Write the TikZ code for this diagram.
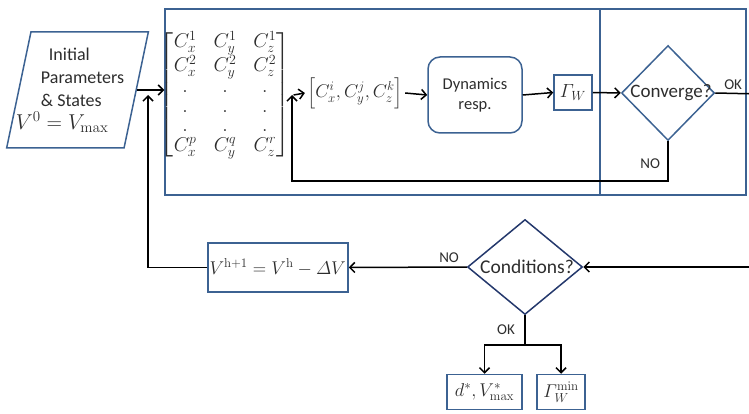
\RequirePackage{fix-cm}
\documentclass[tikz,border=0pt]{standalone}
\usepackage[no-math]{fontspec}
\setmainfont{Carlito}
\usepackage{amsmath}
\usetikzlibrary{shapes.geometric,arrows.meta}
\definecolor{boxblue}{RGB}{60,98,146}
\definecolor{navy}{RGB}{36,56,108}
\definecolor{ink}{RGB}{45,45,45}
\newcommand{\fsz}[2]{\fontsize{#1}{#2}\selectfont}
\tikzset{
    box/.style={draw=boxblue, line width=1.5pt, inner sep=0pt},
    flow/.style={line width=1.5pt, -{Straight Barb[length=5pt,width=10pt]}},
    wire/.style={line width=1.5pt},
    decide/.style={diamond, draw=boxblue, line width=1.5pt, inner sep=0pt},
    tag/.style={text=ink, font=\fsz{15}{18}},
}
\begin{document}
\begin{tikzpicture}[x=1pt, y=-1pt, text=ink]
    \useasboundingbox (0,0) rectangle (749,414);
    \clip (0,0) rectangle (749,414);
    % search loop
    \node[box, minimum width=581pt, minimum height=186pt] (loop) at (455.5,102) {};
    \draw[box] (600,9) -- (600,195);
    \node[box, trapezium, trapezium left angle=74, trapezium right angle=106,
          trapezium stretches=true, minimum width=129pt, minimum height=116pt,
          font=\fsz{18}{23}, align=left] (init) at (77.5,90)
          {\hspace*{18pt}Initial\\\hspace*{10pt}Parameters\\\hspace*{10pt}\& States\\
           \hspace*{-15pt}\fsz{21.5}{25}$V^0 = V_{\max}$};
    \begingroup
    \setlength{\arraycolsep}{8.5pt}
    \node[font=\fsz{20}{12}] (mat) at (225,95) {$\renewcommand{\arraystretch}{1.62}\begin{bmatrix}
        C_x^1 & C_y^1 & C_z^1\\
        C_x^2 & C_y^2 & C_z^2\\
        . & . & .\\
        . & . & .\\
        . & . & .\\
        C_x^p & C_y^q & C_z^r
    \end{bmatrix}$};
    \endgroup
    \node[font=\fsz{18.5}{22}, inner sep=2pt] (pick) at (355,93) {$\left[C_x^i, C_y^j, C_z^k\right]$};
    \node[box, rounded corners=12pt, minimum width=94pt, minimum height=76pt,
          font=\fsz{16.5}{20}, align=center] (dyn) at (475,95) {Dynamics\\resp.};
    \node[box, minimum width=38pt, minimum height=35pt, font=\fsz{19}{22}] (gam) at (573,92.5) {$\varGamma_W$};
    \node[decide, minimum width=93pt, minimum height=95pt, font=\fsz{19}{23}] (conv) at (668,93)
          {\makebox[0pt]{\hspace{6pt}Converge?}};
    \coordinate (meet1) at (148,93);
    \coordinate (meet2) at (292,93);
    \coordinate (okend) at (760,94);
    \draw[flow] (init.east) -- (init.east -| loop.west);
    \draw[flow] (mat.east) -- (pick.west);
    \draw[flow] (pick.east) -- (dyn.west);
    \draw[flow] (dyn.east) -- (gam.west);
    \draw[flow] (gam.east) -- (conv.west);
    \draw[wire] (conv.east) -- node[tag, above, pos=0.4] {OK} (okend);
    \draw[flow, shorten >=2pt] (conv.south) -- node[tag, left, pos=0.55, xshift=-4pt] {NO} ++(0,40) -| (meet2);
    % outer loop
    \node[decide, draw=navy, minimum width=115pt, minimum height=95pt, font=\fsz{19.5}{23}] (cond) at (525,267)
          {\makebox[0pt]{\hspace{4pt}Conditions?}};
    \node[box, minimum width=140pt, minimum height=49pt, font=\fsz{18.5}{22},
          text width=137pt, align=left] (vnext) at (278,267.5)
          {$V^{\mathrm{h}+1} = V^{\mathrm{h}} - \varDelta V$};
    \node[box, minimum width=75pt, minimum height=35pt, font=\fsz{18.5}{22}] (best) at (484.5,392)
          {$d^{*}, V^{*}_{\max}$};
    \node[box, minimum width=48pt, minimum height=35pt, font=\fsz{18.5}{22}] (gmin) at (561,392)
          {$\varGamma_W^{\min}$};
    \coordinate (inend) at (760,267);
    \coordinate (split) at (525,345);
    \draw[flow] (inend) -- (cond.east);
    \draw[flow] (cond.west) -- node[tag, above, pos=0.15] {NO} (vnext.east);
    \draw[flow, shorten >=2pt] (vnext.west) -| (meet1);
    \draw[wire] (cond.south) -- node[tag, left, xshift=-6pt] {OK} (split);
    \draw[flow] (split) -| (best.north);
    \draw[flow] (split) -| (gmin.north);
\end{tikzpicture}
\end{document}
